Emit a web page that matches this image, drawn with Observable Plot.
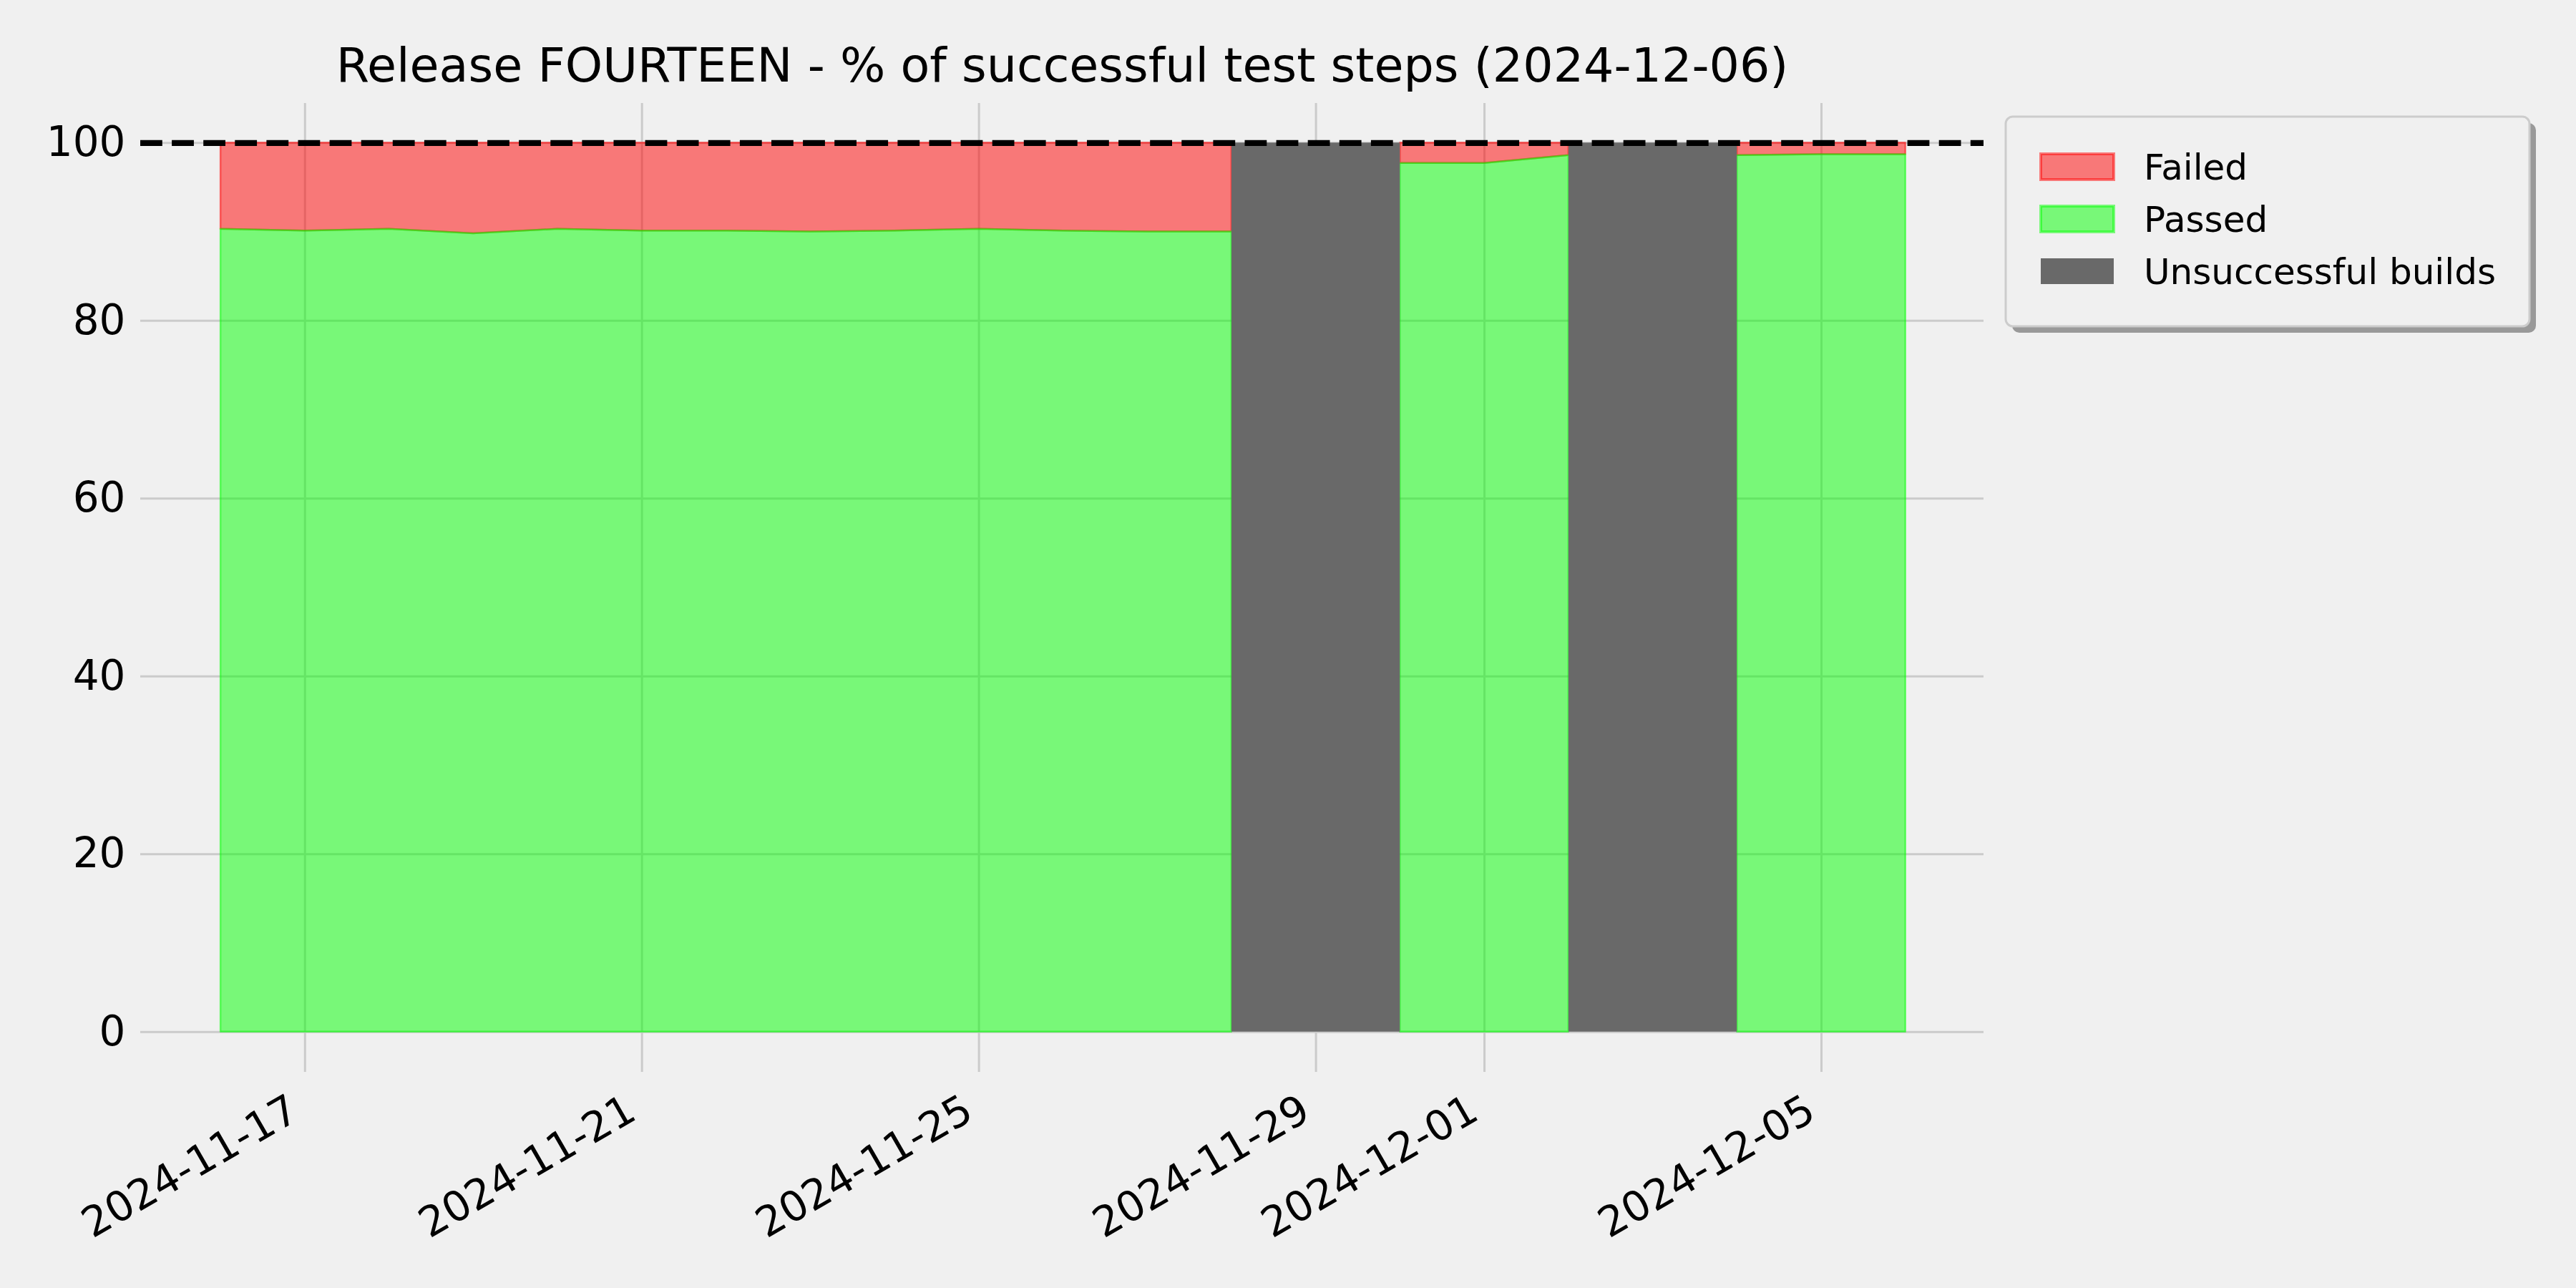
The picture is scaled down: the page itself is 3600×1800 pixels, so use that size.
<!DOCTYPE html>
<html>
<head>
<meta charset="utf-8">
<script src="https://cdn.jsdelivr.net/npm/d3@7"></script>
<script src="https://cdn.jsdelivr.net/npm/@observablehq/plot@0.6"></script>
<style>
  html, body { margin: 0; padding: 0; background: #f0f0f0; }
  #chart { width: 3600px; height: 1800px; }
</style>
</head>
<body>
<div id="chart"></div>
<script>
// ---- data ----
const title = "Release FOURTEEN - % of successful test steps (2024-12-06)";
const dates = [
  "2024-11-16", "2024-11-17", "2024-11-18", "2024-11-19", "2024-11-20",
  "2024-11-21", "2024-11-22", "2024-11-23", "2024-11-24", "2024-11-25",
  "2024-11-26", "2024-11-27", "2024-11-28", "2024-11-29", "2024-11-30",
  "2024-12-01", "2024-12-02", "2024-12-03", "2024-12-04", "2024-12-05",
  "2024-12-06"
];
const passed = [
  90.3, 90.1, 90.3, 89.8, 90.3,
  90.1, 90.1, 90.0, 90.1, 90.3,
  90.1, 90.0, 90.0, null, 97.7,
  97.7, 98.6, null, 98.6, 98.7,
  98.7
];
const failed = [
  9.7, 9.9, 9.7, 10.2, 9.7,
  9.9, 9.9, 10.0, 9.9, 9.7,
  9.9, 10.0, 10.0, null, 2.3,
  2.3, 1.4, null, 1.4, 1.3,
  1.3
];
const unsuccessfulBuilds = ["2024-11-29", "2024-12-03"];
const unsuccessfulValue = 100;
const targetLine = 100;
const yTicks = [0, 20, 40, 60, 80, 100];
const xTickLabels = ["2024-11-17", "2024-11-21", "2024-11-25", "2024-11-29", "2024-12-01", "2024-12-05"];
const seriesNames = ["Failed", "Passed", "Unsuccessful builds"];

// ---- build tables ----
const parse = d3.utcParse("%Y-%m-%d");
const table = dates.map((d, i) => ({
  date: parse(d),
  passed: passed[i],
  failedTop: passed[i] == null ? null : passed[i] + failed[i]
}));
const builds = unsuccessfulBuilds.map(d => ({
  x1: d3.utcDay.offset(parse(d), -1),
  x2: d3.utcDay.offset(parse(d), 1),
  value: unsuccessfulValue
}));
const xTicks = xTickLabels.map(parse);

const FONT = "DejaVu Sans";
const RED = "red", LIME = "lime", GRAY = "#696969";

const plot = Plot.plot({
  width: 3600,
  height: 1800,
  marginLeft: 196,
  marginRight: 828,
  marginTop: 144,
  marginBottom: 302,
  style: { background: "#f0f0f0", fontFamily: FONT, color: "black", overflow: "visible" },
  x: { type: "utc", domain: [new Date("2024-11-15T01:10:00Z"), new Date("2024-12-06T22:16:00Z")] },
  y: { domain: [-4.53, 104.45] },
  marks: [
    Plot.gridY(yTicks, { stroke: "#cbcbcb", strokeOpacity: 1, strokeWidth: 3 }),
    Plot.gridX(xTicks, { stroke: "#cbcbcb", strokeOpacity: 1, strokeWidth: 3 }),
    Plot.areaY(table, {
      x: "date", y1: "passed", y2: "failedTop",
      fill: RED, fillOpacity: 0.5, stroke: RED, strokeOpacity: 0.5, strokeWidth: 2.5
    }),
    Plot.areaY(table, {
      x: "date", y1: 0, y2: "passed",
      fill: LIME, fillOpacity: 0.5, stroke: LIME, strokeOpacity: 0.5, strokeWidth: 2.5
    }),
    Plot.rectY(builds, { x1: "x1", x2: "x2", y1: 0, y2: "value", fill: GRAY }),
    Plot.ruleY([targetLine], { stroke: "black", strokeWidth: 8.3, strokeDasharray: "30.8,13.3" }),
    Plot.axisY({
      ticks: yTicks, tickSize: 0, tickPadding: 21, fontSize: 58, label: null
    }),
    Plot.axisX({
      ticks: xTicks, tickFormat: d3.utcFormat("%Y-%m-%d"), tickSize: 0,
      tickRotate: -30, textAnchor: "end", lineAnchor: "bottom",
      tickPadding: 64, dx: -5, fontSize: 58, label: null
    }),
    Plot.text([title], {
      frameAnchor: "top", lineAnchor: "bottom", dy: -31, fontSize: 66.7, fill: "black"
    })
  ]
});

// ---- legend (inside the SVG) ----
const svg = d3.select(plot);
const lg = svg.append("g").attr("font-family", FONT).attr("text-anchor", "start");
const box = { x: 2803, y: 163, w: 732, h: 293 };
lg.append("rect").attr("x", box.x + 9).attr("y", box.y + 9).attr("width", box.w).attr("height", box.h)
  .attr("rx", 10).attr("fill", "#999999");
lg.append("rect").attr("x", box.x).attr("y", box.y).attr("width", box.w).attr("height", box.h)
  .attr("rx", 10).attr("fill", "#f0f0f0").attr("stroke", "#cccccc").attr("stroke-width", 3);
const swatches = [
  { fill: RED, fo: 0.5, stroke: RED, so: 0.5 },
  { fill: LIME, fo: 0.5, stroke: LIME, so: 0.5 },
  { fill: GRAY, fo: 1, stroke: "none", so: 0 }
];
seriesNames.forEach((name, i) => {
  const cy = 233 + i * 73;
  const s = swatches[i];
  lg.append("rect").attr("x", 2852).attr("y", cy - 18).attr("width", 102).attr("height", 36)
    .attr("fill", s.fill).attr("fill-opacity", s.fo)
    .attr("stroke", s.stroke).attr("stroke-opacity", s.so).attr("stroke-width", 4);
  lg.append("text").attr("x", 2996).attr("y", cy).attr("dy", "0.35em")
    .attr("text-anchor", "start")
    .attr("font-size", 50).attr("fill", "black").text(name);
});

document.getElementById("chart").appendChild(plot);
</script>
</body>
</html>
